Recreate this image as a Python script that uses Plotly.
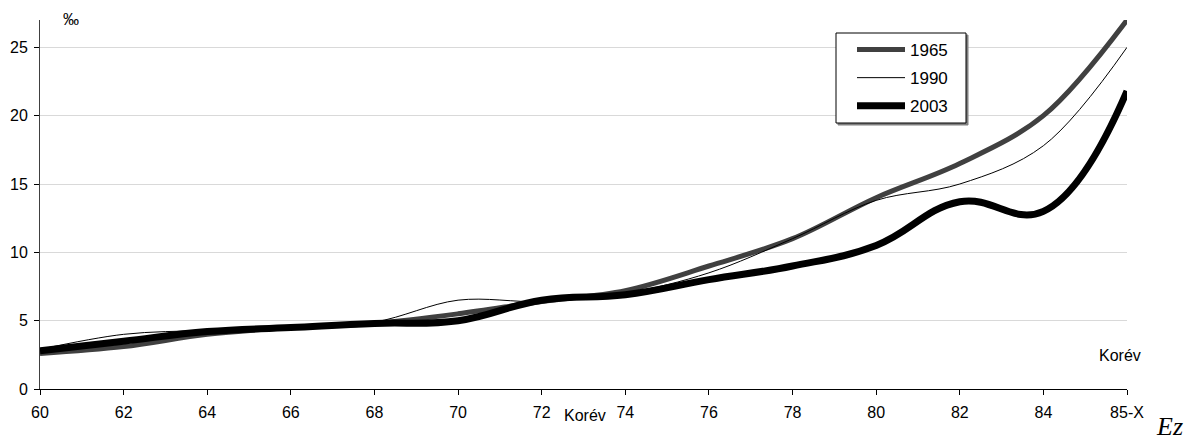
import plotly.graph_objects as go

categories = ["60", "62", "64", "66", "68", "70", "72", "74", "76", "78", "80", "82", "84", "85-X"]
y1965 = [2.6, 3.1, 4.0, 4.5, 4.8, 5.5, 6.4, 7.2, 9.0, 11.0, 14.0, 16.5, 20.0, 27.0]
y1990 = [2.9, 4.0, 4.3, 4.6, 4.9, 6.5, 6.4, 7.0, 8.5, 11.0, 13.8, 15.0, 17.8, 25.0]
y2003 = [2.8, 3.5, 4.2, 4.5, 4.8, 5.0, 6.5, 6.9, 8.0, 9.0, 10.5, 13.7, 13.0, 21.8]
y_ticks = [0, 5, 10, 15, 20, 25]

FONT = "Arial, Liberation Sans, sans-serif"
OFF = 8  # page body margin
W, H = 1192 - OFF, 441 - OFF
# plot area in page pixels: x 40..1127, y 20..389
L, T = 40 - OFF, 20 - OFF
R = W - (1127 - OFF)
B = H - (389 - OFF)
PW, PH = W - L - R, H - T - B


def px(x):
    return (x - OFF - L) / PW


def py(y):
    return (H - B - (y - OFF)) / PH


fig = go.Figure()
fig.add_trace(go.Scatter(x=categories, y=y1965, name="1965", mode="lines",
                         line=dict(color="#404040", width=5, shape="spline", smoothing=1.0),
                         legendgroup="a"))
fig.add_trace(go.Scatter(x=categories, y=y1990, name="1990", mode="lines",
                         line=dict(color="#000000", width=1, shape="spline", smoothing=1.0),
                         legendgroup="b"))
fig.add_trace(go.Scatter(x=categories, y=y2003, name="2003", mode="lines",
                         line=dict(color="#000000", width=7, shape="spline", smoothing=1.2),
                         legendgroup="c"))

fig.update_layout(
    width=W, height=H,
    margin=dict(l=L, r=R, t=T, b=B, autoexpand=False),
    paper_bgcolor="white", plot_bgcolor="white",
    font=dict(family=FONT, size=16, color="black"),
    legend=dict(x=px(852), y=py(32), xanchor="left", yanchor="top",
                bgcolor="rgba(0,0,0,0)", borderwidth=0, itemwidth=48,
                tracegroupgap=3, font=dict(size=17)),
    showlegend=True,
)
fig.update_xaxes(type="category", range=[0, len(categories) - 1], automargin=False,
                 showgrid=False, showline=True, linecolor="black", linewidth=1,
                 ticks="outside", ticklen=5, tickcolor="black", ticklabelstandoff=4,
                 tickfont=dict(size=16), zeroline=False)
fig.update_yaxes(range=[0, 27], tickvals=y_ticks, automargin=False, showgrid=True,
                 gridcolor="#d9d9d9", gridwidth=1, showline=True, linecolor="#404040",
                 linewidth=1, ticks="outside", ticklen=5, tickcolor="black", ticklabelstandoff=3,
                 tickfont=dict(size=16), zeroline=False)

# legend frame with slight shadow
fig.add_shape(type="rect", xref="paper", yref="paper", layer="above",
              x0=px(838), x1=px(968), y0=py(125), y1=py(35),
              line=dict(color="#808080", width=1), fillcolor="#808080")
fig.add_shape(type="rect", xref="paper", yref="paper", layer="above",
              x0=px(836), x1=px(966), y0=py(123), y1=py(33),
              line=dict(color="black", width=1), fillcolor="white")

fig.add_annotation(text="‰", xref="paper", yref="paper", x=px(71), y=py(19),
                   showarrow=False, font=dict(size=16), xanchor="center", yanchor="middle")
fig.add_annotation(text="Korév", xref="paper", yref="paper", x=px(585), y=py(415),
                   showarrow=False, font=dict(size=16), xanchor="center", yanchor="middle")
fig.add_annotation(text="Korév", xref="paper", yref="paper", x=px(1120), y=py(355),
                   showarrow=False, font=dict(size=16), xanchor="center", yanchor="middle")
fig.add_annotation(text="<i>Ez</i>", xref="paper", yref="paper", x=px(1169), y=py(427),
                   showarrow=False, font=dict(size=26, family="Liberation Serif, Times New Roman, serif"),
                   xanchor="center", yanchor="middle")

fig.write_html("out.html")
